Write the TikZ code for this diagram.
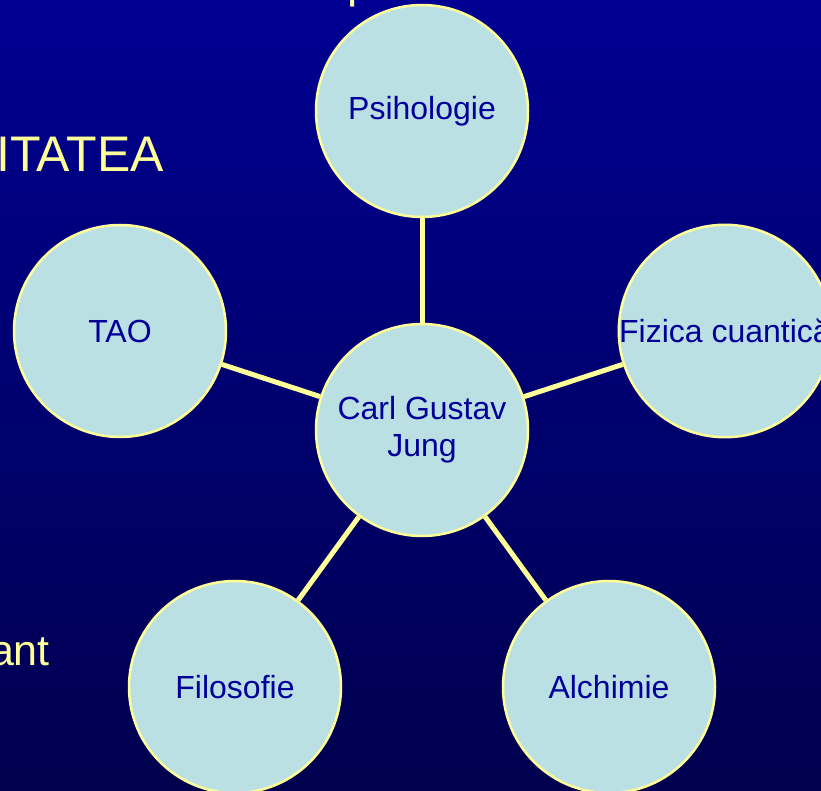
\documentclass[tikz,border=0pt]{standalone}
\usepackage{fontspec}
\setmainfont{Liberation Sans}
\definecolor{bgtop}{RGB}{0,0,146}
\definecolor{bgbot}{RGB}{0,0,78}
\definecolor{circfill}{RGB}{186,224,227}
\definecolor{yel}{RGB}{255,255,153}
\definecolor{txtblue}{RGB}{0,0,153}
\begin{document}
\begin{tikzpicture}[x=1pt,y=-1pt,
  topic/.style={circle, draw=yel, line width=2.5pt, fill=circfill, minimum size=212pt,
    inner sep=0pt, text=txtblue, font=\fontsize{32}{37}\selectfont, align=center},
  link/.style={draw=yel, line width=5pt},
  slidetext/.style={text=yel, inner sep=0pt}]
\shade[top color=bgtop, bottom color=bgbot] (0,0) rectangle (821,791);
\useasboundingbox (0,0) rectangle (821,791);
% partial slide texts
\node[slidetext, anchor=base east, font=\fontsize{50}{50}\selectfont] (t1) at (164,172) {LITATEA};
\node[slidetext, anchor=base east, font=\fontsize{43}{43}\selectfont] (t2) at (50,665) {ant};
\node[slidetext, anchor=base west, font=\fontsize{46}{46}\selectfont] (t3) at (347,-2) {p};
% topic circles
\node[topic] (c) at (422,430) {Carl Gustav\\Jung};
\node[topic] (psi) at (422,111) {Psihologie};
\node[topic] (fiz) at (725,331) {Fizica cuantică};
\node[topic] (tao) at (120,331) {TAO};
\node[topic] (fil) at (235,687) {Filosofie};
\node[topic] (alc) at (609,687) {Alchimie};
% connectors
\draw[link] (c) -- (psi);
\draw[link] (c) -- (fiz);
\draw[link] (c) -- (tao);
\draw[link] (c) -- (fil);
\draw[link] (c) -- (alc);
\end{tikzpicture}
\end{document}
